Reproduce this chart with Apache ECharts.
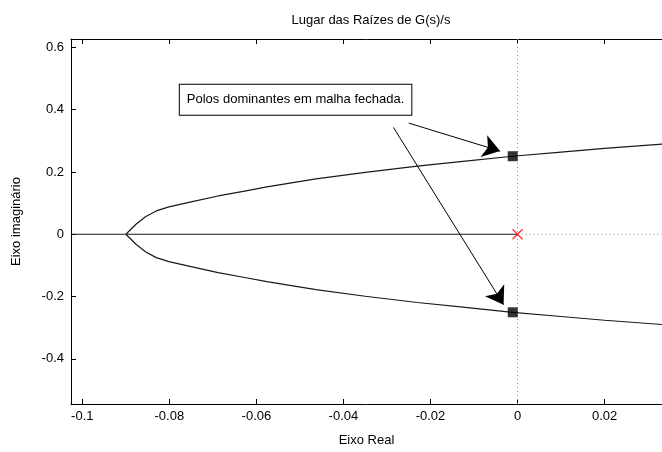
<!DOCTYPE html>
<html>
<head>
<meta charset="utf-8">
<script src="https://cdn.jsdelivr.net/npm/echarts@6/dist/echarts.min.js"></script>
<style>
  html, body { margin: 0; padding: 0; background: #fff; }
  #chart { width: 662px; height: 452px; }
</style>
</head>
<body>
<div id="chart"></div>
<script>
// Root locus of G(s)/s: complex branches leaving the real axis near s = -0.09
const upperBranch = [
  [-0.0900, 0.000], [-0.0876, 0.033], [-0.0854, 0.057], [-0.0830, 0.075],
  [-0.0801, 0.088], [-0.0750, 0.104], [-0.0688, 0.123], [-0.0630, 0.138],
  [-0.0576, 0.152], [-0.0463, 0.178], [-0.0350, 0.199], [-0.0230, 0.219],
  [-0.0120, 0.235], [-0.0011, 0.2506], [0.0100, 0.264], [0.0200, 0.276],
  [0.0335, 0.290]
];
const lowerBranch = upperBranch.map(p => [p[0], -p[1]]);

// Real-axis segment of the locus, ending at the open-loop pole at the origin
const realAxisLocus = [[-0.1026, 0], [0, 0]];
const openLoopPoles = [[0, 0]];

// Dominant closed-loop poles
const closedLoopPoles = [[-0.0011, 0.2506], [-0.0011, -0.2506]];

// Axis limits and tick values
const xLimits = [-0.1026, 0.0332];
const yLimits = [-0.545, 0.627];
const xTicks = [-0.1, -0.08, -0.06, -0.04, -0.02, 0, 0.02];
const yTicks = [-0.4, -0.2, 0, 0.2, 0.4, 0.6];

// Annotation: text anchor and the two arrows pointing at the poles
const noteText = 'Polos dominantes em malha fechada.';
const noteAnchor = [-0.0510, 0.432];
const noteArrows = [
  [[-0.0250, 0.357], [-0.0040, 0.267]],
  [[-0.0285, 0.343], [-0.0032, -0.226]]
];

const FONT = 'Liberation Sans';
const fmt = v => String(+(+v).toFixed(3));

const chart = echarts.init(document.getElementById('chart'), null, { renderer: 'canvas' });

const axisLineStyle = { color: '#000', width: 1 };
const tickText = { fontFamily: FONT, fontSize: 13, color: '#000' };

chart.setOption({
  animation: false,
  backgroundColor: '#fff',
  title: {
    text: 'Lugar das Raízes de G(s)/s',
    left: 366, top: 9, textAlign: 'center',
    textStyle: { fontFamily: FONT, fontSize: 13, fontWeight: 'normal', color: '#000' }
  },
  grid: { left: 71, top: 39, right: -10, bottom: 43, containLabel: false },
  xAxis: [{
    type: 'value', min: xLimits[0], max: xLimits[1], position: 'bottom',
    name: 'Eixo Real', nameLocation: 'middle', nameGap: 30,
    nameTextStyle: tickText,
    axisLine: { show: true, onZero: false, lineStyle: axisLineStyle },
    axisTick: { show: true, inside: true, length: 5, customValues: xTicks, lineStyle: axisLineStyle },
    axisLabel: { show: true, customValues: xTicks, formatter: fmt, margin: 6, ...tickText },
    splitLine: { show: false }
  }, {
    type: 'value', min: xLimits[0], max: xLimits[1], position: 'top',
    axisLine: { show: true, onZero: false, lineStyle: axisLineStyle },
    axisTick: { show: true, inside: true, length: 5, customValues: xTicks, lineStyle: axisLineStyle },
    axisLabel: { show: false },
    splitLine: { show: false }
  }],
  yAxis: [{
    type: 'value', min: yLimits[0], max: yLimits[1], position: 'left',
    name: 'Eixo imaginário', nameLocation: 'middle', nameGap: 48, nameRotate: 90,
    nameTextStyle: tickText,
    axisLine: { show: true, onZero: false, lineStyle: axisLineStyle },
    axisTick: { show: true, inside: true, length: 5, customValues: yTicks, lineStyle: axisLineStyle },
    axisLabel: { show: true, customValues: yTicks, formatter: fmt, margin: 7, ...tickText },
    splitLine: { show: false }
  }],
  series: [
    {
      // dotted reference lines through the origin
      type: 'line', data: [[0, yLimits[0]], [0, yLimits[1]]], symbol: 'none',
      lineStyle: { color: '#888', width: 1, type: [1, 3] }, z: 1
    },
    {
      type: 'line', data: [[0, 0], [xLimits[1], 0]], symbol: 'none',
      lineStyle: { color: '#888', width: 1, type: [1, 3] }, z: 1
    },
    {
      type: 'line', data: realAxisLocus, symbol: 'none',
      lineStyle: { color: '#1a1a1a', width: 1.2 }, z: 2
    },
    {
      type: 'line', data: upperBranch, symbol: 'none',
      lineStyle: { color: '#1a1a1a', width: 1.2 }, z: 2
    },
    {
      type: 'line', data: lowerBranch, symbol: 'none',
      lineStyle: { color: '#1a1a1a', width: 1.2 }, z: 2,
      markLine: {
        silent: true, symbol: ['none', 'arrow'], symbolSize: 17, precision: 5,
        lineStyle: { color: '#000', width: 1, type: 'solid' },
        label: { show: false },
        data: noteArrows.map(a => [{ coord: a[0] }, { coord: a[1] }])
      },
      markPoint: {
        silent: true,
        data: [{
          coord: noteAnchor, symbol: 'rect', symbolSize: 1,
          itemStyle: { color: 'rgba(0,0,0,0)' },
          label: {
            show: true, position: 'inside', formatter: noteText,
            fontFamily: FONT, fontSize: 13, color: '#000',
            backgroundColor: '#fff', borderColor: '#000', borderWidth: 1,
            padding: [9, 7, 8, 7]
          }
        }]
      }
    },
    {
      type: 'scatter', data: openLoopPoles,
      symbol: 'path://M0,0L10,10M10,0L0,10', symbolSize: 10,
      itemStyle: { color: 'rgba(0,0,0,0)', borderColor: '#ff0000', borderWidth: 1.3 }, z: 4
    },
    {
      type: 'scatter', data: closedLoopPoles, symbol: 'rect', symbolSize: 10,
      itemStyle: { color: '#000' }, z: 5
    }
  ]
});
</script>
</body>
</html>
